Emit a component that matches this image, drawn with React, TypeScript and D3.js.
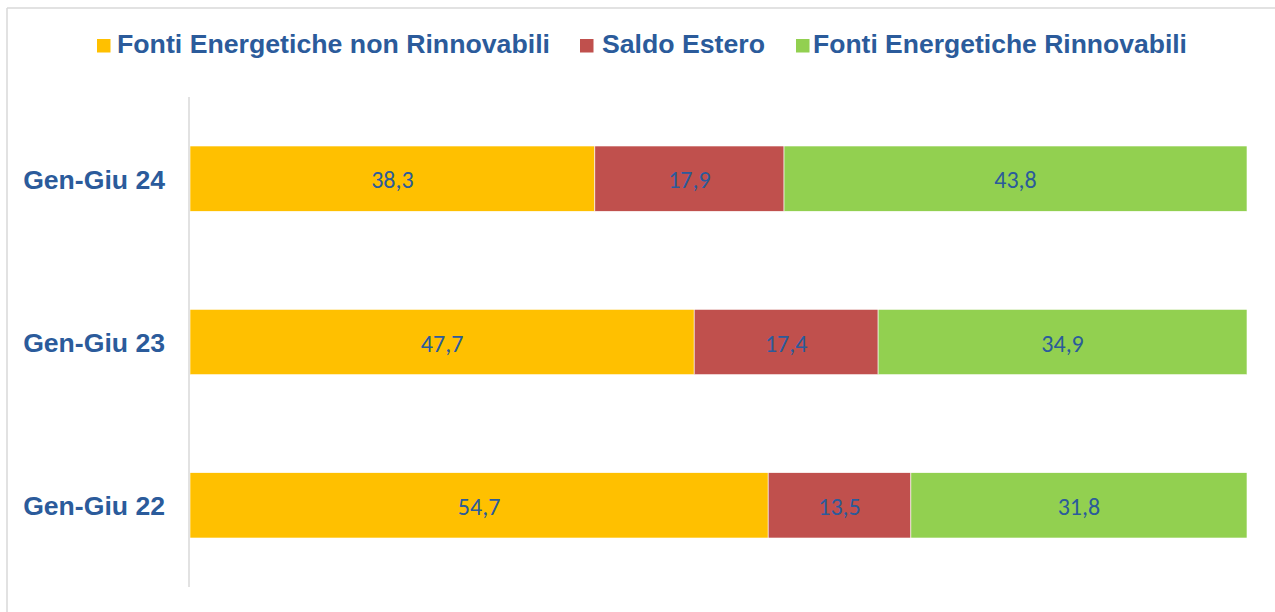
import React from "react";
import * as d3 from "d3";

const categories = ["Gen-Giu 24", "Gen-Giu 23", "Gen-Giu 22"];
const seriesNames = ["Fonti Energetiche non Rinnovabili", "Saldo Estero", "Fonti Energetiche Rinnovabili"];
const nonRinnovabili = [38.3, 47.7, 54.7];
const saldoEstero = [17.9, 17.4, 13.5];
const rinnovabili = [43.8, 34.9, 31.8];
const colors = ["#FFC000", "#C0504D", "#92D050"];

const W = 1275;
const H = 612;
const plot = { left: 190, right: 1247, top: 97, bottom: 587 };
const textBlue = "#2B5B9B";

export default function App() {
  const x = d3.scaleLinear().domain([0, 100]).range([plot.left, plot.right]);
  const y = d3.scaleBand().domain(categories).range([plot.top, plot.bottom]).paddingInner(0.6).paddingOuter(0.3);
  const rows = categories.map((c, i) => ({
    cat: c,
    vals: [nonRinnovabili[i], saldoEstero[i], rinnovabili[i]],
  }));
  const stack = d3.stack<any>().keys(["0", "1", "2"]).value((d, k) => d.vals[+k]);
  const series = stack(rows);
  const legendItems = [
    { sq: 97, tx: 117, len: 433 },
    { sq: 580, tx: 602, len: 163 },
    { sq: 796, tx: 813, len: 374 },
  ];
  return (
    <svg width={W} height={H} style={{ position: "absolute", left: 0, top: 0, display: "block" }}>
      <rect x={0} y={0} width={W} height={H} fill="#fff" />
      <line x1={7} y1={8} x2={W} y2={8} stroke="#D9D9D9" strokeWidth={1.5} />
      <line x1={7} y1={8} x2={7} y2={H} stroke="#D9D9D9" strokeWidth={1.5} />
      {legendItems.map((l, i) => (
        <g key={i}>
          <rect x={l.sq} y={39} width={13.5} height={13.5} fill={colors[i]} />
          <text x={l.tx} y={53} fontFamily="'Liberation Sans', Arial, sans-serif" fontWeight="bold" fontSize={26.6} fill={textBlue} textLength={l.len} lengthAdjust="spacingAndGlyphs">
            {seriesNames[i]}
          </text>
        </g>
      ))}
      {series.map((s, si) => (
        <g key={si}>
          {s.map((d, i) => {
            const x0 = x(d[0]);
            const x1 = x(d[1]);
            const yy = y(rows[i].cat)!;
            return (
              <g key={i}>
                <rect x={x0} y={yy} width={x1 - x0} height={y.bandwidth()} fill={colors[si]} stroke="#fff" strokeWidth={0.6} />
                <text x={(x0 + x1) / 2} y={yy + y.bandwidth() / 2 + 9.5} textAnchor="middle" fontFamily="Carlito, Lato, sans-serif" fontSize={24} fill={textBlue}>
                  {rows[i].vals[si].toFixed(1).replace(".", ",")}
                </text>
              </g>
            );
          })}
        </g>
      ))}
      <line x1={plot.left - 1} y1={plot.top} x2={plot.left - 1} y2={plot.bottom} stroke="#D9D9D9" strokeWidth={1.5} />
      {categories.map((c) => (
        <text key={c} x={165} y={y(c)! + y.bandwidth() / 2 + 10} textAnchor="end" fontFamily="'Liberation Sans', Arial, sans-serif" fontWeight="bold" fontSize={26.6} fill={textBlue}>
          {c}
        </text>
      ))}
    </svg>
  );
}
